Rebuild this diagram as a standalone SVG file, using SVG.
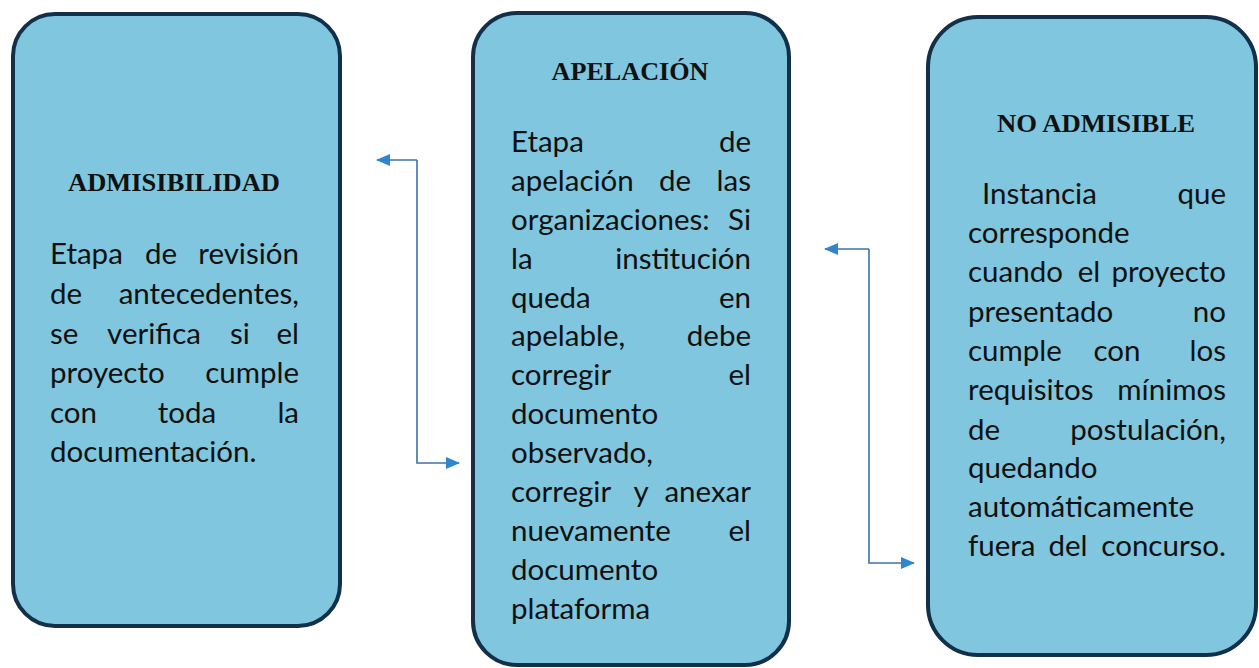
<svg xmlns="http://www.w3.org/2000/svg" width="1259" height="668" viewBox="0 0 1259 668">
<defs>
<style>
.box{fill:#80c6de;stroke:#12304a;stroke-width:4}
.title{font-family:"Liberation Serif","Times New Roman",serif;font-weight:bold;font-size:25px;fill:#111;text-anchor:middle}
.body{font-family:Lato,"Noto Sans",sans-serif;font-size:29.5px;fill:#111}
.m{text-anchor:middle}
.e{text-anchor:end}
.conn{fill:none;stroke:#3d72a8;stroke-width:1.6}
</style>
<marker id="arr" viewBox="0 0 14 12" refX="13" refY="6" markerWidth="14" markerHeight="12" markerUnits="userSpaceOnUse" orient="auto">
<path d="M0,0 L14,6 L0,12 Z" fill="#2f86d0"/>
</marker>
</defs>
<rect width="1259" height="668" fill="#ffffff"/>

<g id="connectors">
<path class="conn" d="M417,160 L417,463 L459,463" marker-end="url(#arr)"/>
<path class="conn" d="M417,160 L377,160" marker-end="url(#arr)"/>
<path class="conn" d="M869,249 L869,563 L914,563" marker-end="url(#arr)"/>
<path class="conn" d="M869,249 L825,249" marker-end="url(#arr)"/>
</g>

<g id="admisibilidad">
<rect class="box" x="13" y="14" width="327" height="612" rx="42" ry="42"/>
<text class="title" x="174" y="191" textLength="212" lengthAdjust="spacingAndGlyphs">ADMISIBILIDAD</text>
<text class="body" x="50" y="264">Etapa</text><text class="body m" x="161" y="264">de</text><text class="body e" x="299" y="264">revisión</text>
<text class="body" x="50" y="304">de</text><text class="body e" x="299" y="304">antecedentes,</text>
<text class="body" x="50" y="344">se</text><text class="body m" x="154" y="344">verifica</text><text class="body m" x="240" y="344">si</text><text class="body e" x="299" y="344">el</text>
<text class="body" x="50" y="383">proyecto</text><text class="body e" x="299" y="383">cumple</text>
<text class="body" x="50" y="423">con</text><text class="body m" x="187" y="423">toda</text><text class="body e" x="299" y="423">la</text>
<text class="body" x="50" y="462">documentación.</text>
</g>

<g id="apelacion">
<rect class="box" x="473" y="13" width="316" height="652" rx="44" ry="44"/>
<text class="title" x="630" y="80" textLength="157" lengthAdjust="spacingAndGlyphs">APELACIÓN</text>
<text class="body" x="511" y="152">Etapa</text><text class="body e" x="751" y="152">de</text>
<text class="body" x="511" y="191">apelación</text><text class="body m" x="675" y="191">de</text><text class="body e" x="751" y="191">las</text>
<text class="body" x="511" y="230">organizaciones:</text><text class="body e" x="751" y="230">Si</text>
<text class="body" x="511" y="269">la</text><text class="body e" x="751" y="269">institución</text>
<text class="body" x="511" y="308">queda</text><text class="body e" x="751" y="308">en</text>
<text class="body" x="511" y="346">apelable,</text><text class="body e" x="751" y="346">debe</text>
<text class="body" x="511" y="385">corregir</text><text class="body e" x="751" y="385">el</text>
<text class="body" x="511" y="424">documento</text>
<text class="body" x="511" y="463">observado,</text>
<text class="body" x="511" y="502">corregir</text><text class="body m" x="641" y="502">y</text><text class="body e" x="751" y="502">anexar</text>
<text class="body" x="511" y="541">nuevamente</text><text class="body e" x="751" y="541">el</text>
<text class="body" x="511" y="580">documento</text>
<text class="body" x="511" y="619">plataforma</text>
</g>

<g id="no-admisible">
<rect class="box" x="928" y="17" width="328" height="638" rx="50" ry="50"/>
<text class="title" x="1096" y="132" textLength="198" lengthAdjust="spacingAndGlyphs">NO ADMISIBLE</text>
<text class="body" x="982" y="204">Instancia</text><text class="body e" x="1226" y="204">que</text>
<text class="body" x="968" y="243">corresponde</text>
<text class="body" x="968" y="282">cuando</text><text class="body m" x="1089" y="282">el</text><text class="body e" x="1226" y="282">proyecto</text>
<text class="body" x="968" y="322">presentado</text><text class="body e" x="1226" y="322">no</text>
<text class="body" x="968" y="361">cumple</text><text class="body m" x="1117" y="361">con</text><text class="body e" x="1226" y="361">los</text>
<text class="body" x="968" y="400">requisitos</text><text class="body e" x="1226" y="400">mínimos</text>
<text class="body" x="968" y="440">de</text><text class="body e" x="1226" y="440">postulación,</text>
<text class="body" x="968" y="478">quedando</text>
<text class="body" x="968" y="517">automáticamente</text>
<text class="body" x="968" y="556">fuera</text><text class="body m" x="1068" y="556">del</text><text class="body e" x="1226" y="556">concurso.</text>
</g>
</svg>
